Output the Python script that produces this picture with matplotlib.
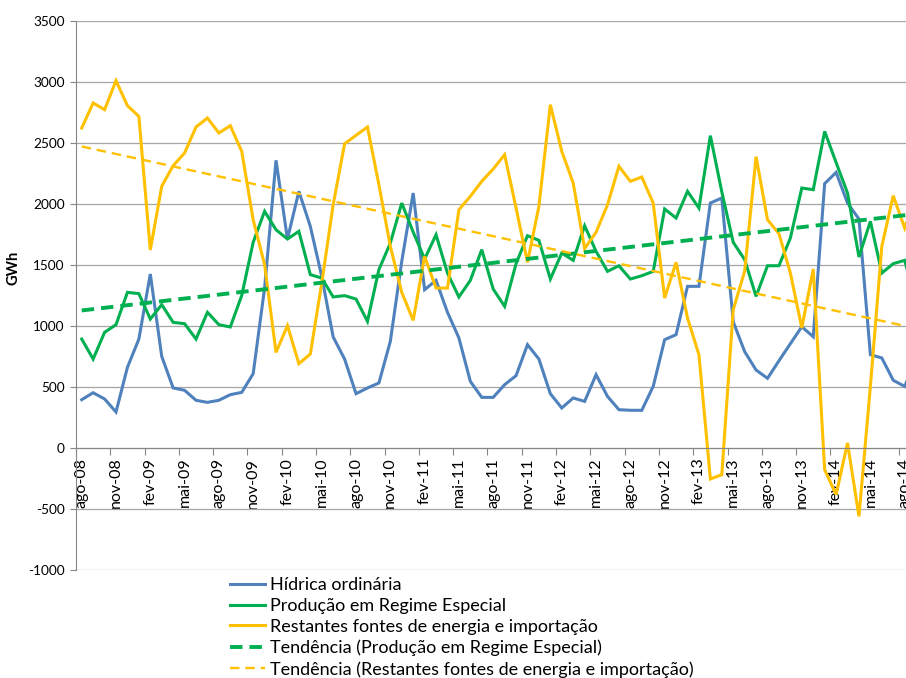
import matplotlib
matplotlib.use('Agg')
import matplotlib.pyplot as plt
import numpy as np

plt.rcParams['font.family'] = ['Lato', 'DejaVu Sans']
plt.rcParams['axes.unicode_minus'] = False

# meses desde ago-08
meses = ['jan', 'fev', 'mar', 'abr', 'mai', 'jun', 'jul', 'ago', 'set', 'out', 'nov', 'dez']

hidrica = [396, 453, 402, 295, 661, 893, 1426, 751, 492, 473, 391, 374, 391, 437, 456,
           609, 1311, 2358, 1713, 2104, 1817, 1407, 910, 729, 445, 492, 533, 874, 1530,
           2090, 1298, 1374, 1112, 902, 546, 415, 415, 519, 593, 847, 729, 445, 328, 410,
           382, 601, 423, 314, 309, 309, 505, 888, 929, 1325, 1325, 2008, 2049, 1035, 790,
           639, 571, 715, 855, 994, 912, 2167, 2259, 2008, 1877, 765, 738, 555, 505, 730]

pre = [893, 729, 948, 1011, 1276, 1265, 1057, 1175, 1030, 1019, 893, 1112, 1011, 992, 1250,
       1686, 1940, 1789, 1713, 1776, 1421, 1393, 1238, 1249, 1221, 1038, 1462, 1680, 2008,
       1770, 1549, 1748, 1434, 1238, 1374, 1626, 1303, 1161, 1511, 1740, 1702, 1385, 1598, 1538,
       1822, 1612, 1448, 1494, 1385, 1412, 1448, 1959, 1885, 2104, 1967, 2560, 2100, 1686, 1544,
       1243, 1494, 1494, 1721, 2131, 2117, 2595, 2340, 2090, 1566, 1858, 1434, 1511, 1538, 1200]

restantes = [2623, 2828, 2773, 3011, 2806, 2718, 1623, 2145, 2314, 2418, 2631, 2705, 2582, 2642, 2431,
             1871, 1503, 784, 1003, 691, 770, 1352, 1994, 2494, 2563, 2631, 2158, 1653, 1276,
             1046, 1571, 1311, 1311, 1953, 2063, 2186, 2287, 2404, 1967, 1522, 1981, 2814, 2432, 2172,
             1635, 1768, 1994, 2309, 2186, 2221, 2008, 1229, 1522, 1065, 765, -254, -219, 1134, 1448,
             2388, 1871, 1757, 1434, 984, 1467, -178, -382, 41, -560, 505, 1653, 2068, 1803, 2050]

n = len(hidrica)
x = np.arange(n)
rotulos = []
for i in range(n):
    m = (7 + i) % 12
    ano = 8 + (7 + i) // 12
    rotulos.append('%s-%02d' % (meses[m], ano))

# tendências lineares (como no Excel)
p_pre = np.polyfit(x, pre, 1)
p_rest = np.polyfit(x, restantes, 1)

azul = '#4F81BD'
verde = '#00B050'
amarelo = '#FFC000'

fig = plt.figure(figsize=(9.06, 6.78), dpi=100)
W, H = 906, 678
unit = 11.43
ax = fig.add_axes([76 / W, (H - 570) / H, (n * unit) / W, 549 / H])

ax.plot(x, hidrica, color=azul, lw=2.2, label='Hídrica ordinária', solid_joinstyle='miter')
ax.plot(x, pre, color=verde, lw=2.2, label='Produção em Regime Especial', solid_joinstyle='miter')
ax.plot(x, restantes, color=amarelo, lw=2.2, label='Restantes fontes de energia e importação',
        solid_joinstyle='miter')
ax.plot(x, np.polyval(p_pre, x), color=verde, lw=2.8, ls=(0, (3.2, 1.8)),
        label='Tendência (Produção em Regime Especial)')
ax.plot(x, np.polyval(p_rest, x), color=amarelo, lw=1.7, ls=(0, (4, 2.5)),
        label='Tendência (Restantes fontes de energia e importação)')

ax.set_xlim(-0.5, n - 0.5)
ax.set_ylim(-1000, 3500)
ax.set_yticks(range(-1000, 3501, 500))
ax.yaxis.grid(True, color='#A6A6A6', lw=0.9)
ax.set_axisbelow(True)
ax.tick_params(axis='y', labelsize=9.8, length=4, color='#868686', pad=4)

# categorias: marcas entre categorias, rótulos a cada 3 meses
ax.set_xticks(np.arange(-0.5, n, 3))
ax.set_xticklabels([])
ax.set_xticks(np.arange(0, n, 3), minor=True)
ax.set_xticklabels([rotulos[i] for i in range(0, n, 3)], minor=True)
ax.tick_params(axis='x', which='major', length=5, color='#868686')
ax.tick_params(axis='x', which='minor', length=0, pad=7, labelrotation=90, labelsize=11.5)

for s in ['top', 'right']:
    ax.spines[s].set_visible(False)
ax.spines['left'].set_color('#868686')
ax.spines['bottom'].set_color('#868686')
ax.spines['bottom'].set_position(('data', 0))

ax.set_ylabel('GWh', fontsize=10.5, fontweight='bold')
ax.yaxis.set_label_coords(-0.066, 0.55)

fig.legend(loc='upper left', bbox_to_anchor=(230 / W, (H - 577) / H), frameon=False,
           fontsize=13.0, handlelength=1.95, handletextpad=0.25, labelspacing=0.27,
           borderpad=0, borderaxespad=0)

fig.savefig('out.png', dpi=100)
